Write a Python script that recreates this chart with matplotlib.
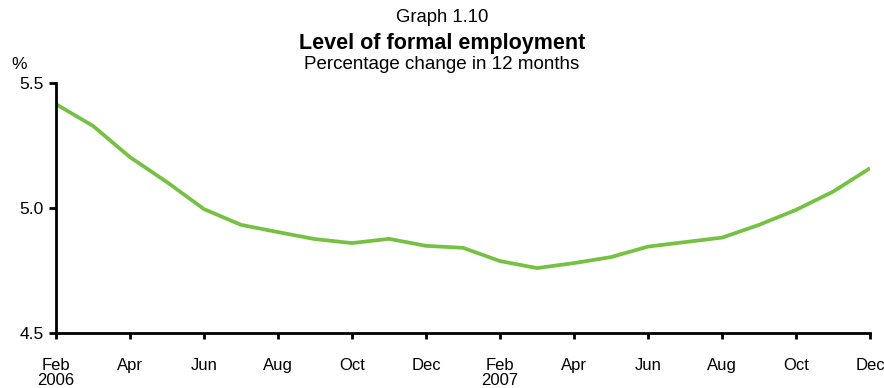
import matplotlib
matplotlib.use("Agg")
import matplotlib.pyplot as plt

plt.rcParams['font.family'] = ['Liberation Sans', 'DejaVu Sans']

# monthly series, Feb 2006 .. Dec 2007
months = ["Feb", "Mar", "Apr", "May", "Jun", "Jul", "Aug", "Sep", "Oct", "Nov", "Dec",
          "Jan", "Feb", "Mar", "Apr", "May", "Jun", "Jul", "Aug", "Sep", "Oct", "Nov", "Dec"]
employment = [5.417, 5.33, 5.205, 5.105, 4.997, 4.934, 4.905, 4.877, 4.861, 4.878, 4.85,
              4.842, 4.789, 4.761, 4.781, 4.805, 4.847, 4.865, 4.883, 4.934, 4.994, 5.067, 5.161]
year_marks = {0: "2006", 12: "2007"}

yticks = [4.5, 5.0, 5.5]

fig = plt.figure(figsize=(8.84, 3.88), dpi=100)
ax = fig.add_axes([0.0633, 0.141, 0.921, 0.644])

x = list(range(len(employment)))
ax.plot(x, employment, color="#76C142", lw=2.7, solid_joinstyle="round",
        solid_capstyle="butt")

ax.set_xlim(0, len(employment) - 1)
ax.set_ylim(4.5, 5.5)

tick_pos = x[::2]
tick_lab = [months[i] + ("\n" + year_marks[i] if i in year_marks else "") for i in tick_pos]
ax.set_xticks(tick_pos)
ax.set_xticklabels(tick_lab, fontsize=12, linespacing=0.95, va="top")
ax.set_yticks(yticks)
ax.set_yticklabels([f"{v:.1f}" for v in yticks], fontsize=12.5)

ax.tick_params(axis="x", direction="out", length=4, width=2, pad=14)
ax.tick_params(axis="y", direction="out", length=5, width=2, pad=4)

for side in ["top", "right"]:
    ax.spines[side].set_visible(False)
for side in ["left", "bottom"]:
    ax.spines[side].set_linewidth(2)
    ax.spines[side].set_color("black")

fig.text(0.5, 0.955, "Graph 1.10", ha="center", va="center", fontsize=13.3)
fig.text(0.5, 0.889, "Level of formal employment", ha="center", va="center",
         fontsize=15.5, fontweight="bold")
fig.text(0.5, 0.835, "Percentage change in 12 months", ha="center", va="center", fontsize=13.5)
fig.text(0.013, 0.835, "%", ha="left", va="center", fontsize=12.5)

fig.savefig("out.png", dpi=100, facecolor="white")
